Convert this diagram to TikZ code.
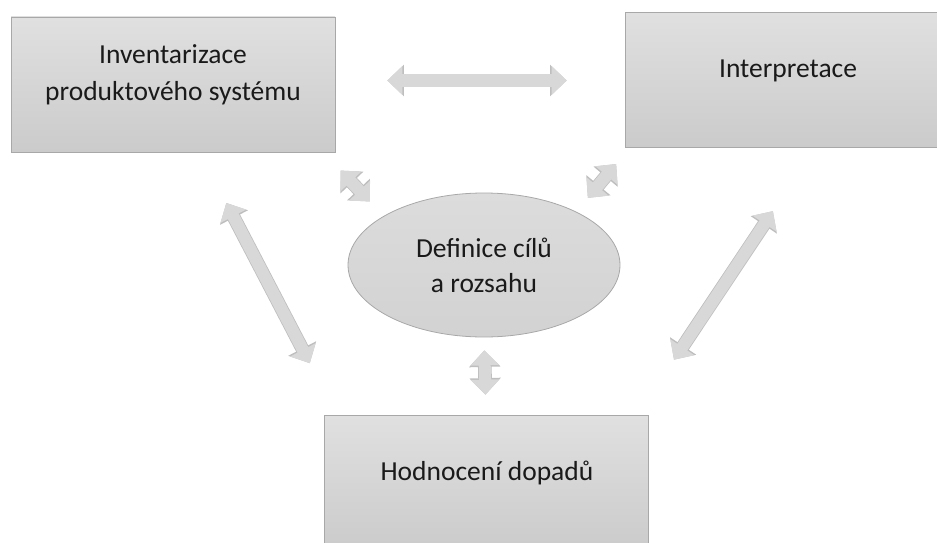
\documentclass[tikz,border=0pt]{standalone}
\usepackage{fontspec}
\setmainfont{Carlito}
\usetikzlibrary{arrows.meta,shapes.geometric}

\definecolor{boxline}{HTML}{A8A8A8}
\definecolor{boxtop}{HTML}{E0E0E0}
\definecolor{boxbot}{HTML}{CBCBCB}
\definecolor{ovaltop}{HTML}{DCDCDC}
\definecolor{ovalbot}{HTML}{D2D2D2}
\definecolor{arrowfill}{HTML}{D8D8D8}
\definecolor{arrowline}{HTML}{BEBEBE}
\definecolor{textcol}{HTML}{1A1A1A}

\tikzset{
    blok/.style={draw=boxline, line width=0.8pt, top color=boxtop, bottom color=boxbot,
        minimum width=324pt, minimum height=135pt},
    napis/.style={text=textcol, align=center, font=\fontsize{27.5}{37}\selectfont},
    obousmer/.style={draw=arrowfill, line width=12pt,
        {Triangle[width=28pt,length=15pt]}-{Triangle[width=28pt,length=15pt]},
        preaction={draw=arrowline, line width=13.6pt,
            {Triangle[width=30.5pt,length=16.5pt]}-{Triangle[width=30.5pt,length=16.5pt]}}}
}

\begin{document}
\begin{tikzpicture}[x=1pt, y=-1pt]
    \useasboundingbox (0,0) rectangle (937,543);

    \node[blok] (inv) at (173,84.5) {};
    \node[napis] (invtext) at (173,75) {Inventarizace\\produktového systému};

    \node[blok] (interp) at (787,80) {};
    \node[napis] (interptext) at (788,71) {Interpretace};

    \node[blok] (hod) at (486,482.5) {};
    \node[napis] (hodtext) at (487,473) {Hodnocení dopadů};

    \node[ellipse, draw=boxline, line width=0.8pt, top color=ovaltop, bottom color=ovalbot,
        minimum width=272pt, minimum height=144pt, napis,
        font=\fontsize{27.5}{35}\selectfont] (def) at (484,265) {Definice cílů\\a rozsahu};

    \draw[obousmer, shorten <=52pt, shorten >=58pt] ([yshift=4pt]inv.east) -- ([yshift=-0.5pt]interp.west);
    \draw[obousmer, shorten <=25pt, shorten >=20pt] ([xshift=-12pt]inv.south east) -- (def.154);
    \draw[obousmer, shorten <=18pt, shorten >=21pt] (def.30) -- ([xshift=5pt]interp.south west);
    \draw[obousmer, shorten <=57pt, shorten >=58pt] ([xshift=27pt]inv.south) -- ([xshift=13pt]hod.north west);
    \draw[obousmer, shorten <=76pt, shorten >=66pt] ([xshift=28pt]interp.south) -- ([xshift=-11pt]hod.north east);
    \draw[obousmer, shorten <=13pt, shorten >=20pt] (def.south) -- (hod.north);
\end{tikzpicture}
\end{document}
